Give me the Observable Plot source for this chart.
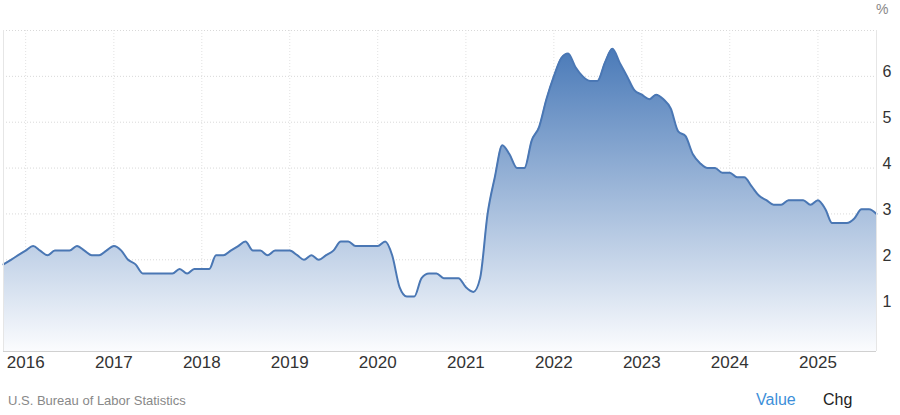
<!DOCTYPE html>
<html>
<head>
<meta charset="utf-8">
<script src="https://cdn.jsdelivr.net/npm/d3@7"></script>
<script src="https://cdn.jsdelivr.net/npm/@observablehq/plot@0.6"></script>
<style>
  html, body { margin: 0; padding: 0; background: #fff; }
  #wrap { position: relative; width: 900px; height: 415px; font-family: "Liberation Sans", Arial, sans-serif; }
  #pct { position: absolute; left: 876px; top: 1px; font-size: 14px; color: #888; }
  #src { position: absolute; left: 8px; top: 393px; font-size: 13px; color: #888; }
  #val { position: absolute; left: 756px; top: 391px; font-size: 16px; color: #3d8fd9; }
  #chg { position: absolute; left: 823px; top: 391px; font-size: 16px; color: #222; }
</style>
</head>
<body>
<div id="wrap">
  <div id="chart"></div>
  <div id="pct">%</div>
  <div id="src">U.S. Bureau of Labor Statistics</div>
  <div id="val">Value</div>
  <div id="chg">Chg</div>
</div>
<script>
// US core CPI, % year over year, monthly
const startYear = 2015, startMonth = 10; // first value is Oct 2015
const v2015 = [1.9, 2.0, 2.1];
const v2016 = [2.2, 2.3, 2.2, 2.1, 2.2, 2.2, 2.2, 2.3, 2.2, 2.1, 2.1, 2.2];
const v2017 = [2.3, 2.2, 2.0, 1.9, 1.7, 1.7, 1.7, 1.7, 1.7, 1.8, 1.7, 1.8];
const v2018 = [1.8, 1.8, 2.1, 2.1, 2.2, 2.3, 2.4, 2.2, 2.2, 2.1, 2.2, 2.2];
const v2019 = [2.2, 2.1, 2.0, 2.1, 2.0, 2.1, 2.2, 2.4, 2.4, 2.3, 2.3, 2.3];
const v2020 = [2.3, 2.4, 2.1, 1.4, 1.2, 1.2, 1.6, 1.7, 1.7, 1.6, 1.6, 1.6];
const v2021 = [1.4, 1.3, 1.6, 3.0, 3.8, 4.5, 4.3, 4.0, 4.0, 4.6, 4.9, 5.5];
const v2022 = [6.0, 6.4, 6.5, 6.2, 6.0, 5.9, 5.9, 6.3, 6.6, 6.3, 6.0, 5.7];
const v2023 = [5.6, 5.5, 5.6, 5.5, 5.3, 4.8, 4.7, 4.3, 4.1, 4.0, 4.0, 3.9];
const v2024 = [3.9, 3.8, 3.8, 3.6, 3.4, 3.3, 3.2, 3.2, 3.3, 3.3, 3.3, 3.2];
const v2025 = [3.3, 3.1, 2.8, 2.8, 2.8, 2.9, 3.1, 3.1, 3.0];

const xTickYears = [2016, 2017, 2018, 2019, 2020, 2021, 2022, 2023, 2024, 2025];
const yTicks = [1, 2, 3, 4, 5, 6];
const yGrid = [1, 2, 3, 4, 5, 6, 7];
const yDomain = [0, 7];

const allValues = [].concat(v2015, v2016, v2017, v2018, v2019, v2020, v2021, v2022, v2023, v2024, v2025);
const data = allValues.map((value, i) => ({
  date: new Date(Date.UTC(startYear, startMonth - 1 + i, 1)),
  value
}));
const first = data[0].date, last = data[data.length - 1].date;
const yearDates = xTickYears.map(y => new Date(Date.UTC(y, 0, 1)));

const chart = Plot.plot({
  width: 900,
  height: 375,
  marginLeft: 3,
  marginRight: 24,
  marginTop: 30,
  marginBottom: 24,
  style: { fontFamily: "'Liberation Sans', Arial, sans-serif", background: "transparent", color: "#333" },
  x: { type: "utc", domain: [first, last] },
  y: { domain: yDomain },
  marks: [
    Plot.ruleY(yGrid, { stroke: "#d9d9d9", strokeDasharray: "1,2" }),
    Plot.ruleX(yearDates, { stroke: "#e2e2e2", strokeDasharray: "1,2" }),
    Plot.areaY(data, { x: "date", y: "value", curve: "monotone-x", fill: "url(#areaGrad)" }),
    Plot.lineY(data, { x: "date", y: "value", curve: "monotone-x", stroke: "#4a77b4", strokeWidth: 2 }),
    Plot.ruleY([0], { stroke: "#d0d0d0" }),
    Plot.ruleX([first, last], { stroke: "#e6e6e6" }),
    Plot.axisX(yearDates, { tickSize: 0, tickPadding: 4, tickFormat: "%Y", fontSize: 17, label: null }),
    Plot.axisY(yTicks, { anchor: "right", tickSize: 0, tickPadding: 6, fontSize: 16, dy: -4, label: null })
  ]
});

d3.select(chart).insert("defs", ":first-child").html(`
  <linearGradient id="areaGrad" x1="0" y1="0" x2="0" y2="1">
    <stop offset="0" stop-color="#4a7ab8"/>
    <stop offset="1" stop-color="#fbfcfe"/>
  </linearGradient>`);

document.getElementById("chart").appendChild(chart);
</script>
</body>
</html>
